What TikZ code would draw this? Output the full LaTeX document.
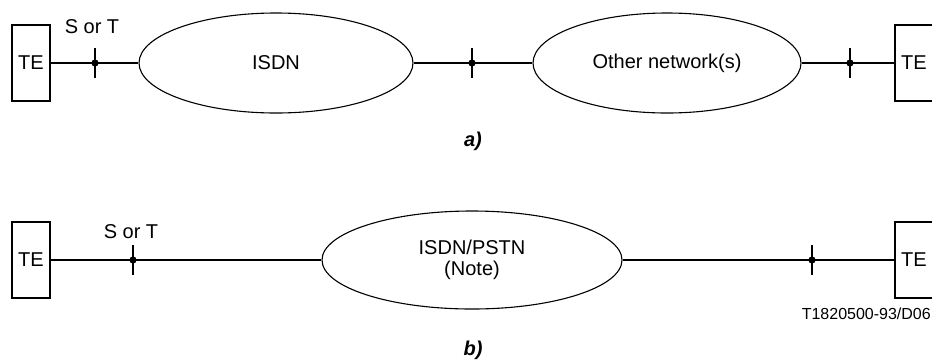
\documentclass[tikz,border=0pt]{standalone}
\usepackage{fontspec}
\setmainfont{Liberation Sans}
\usetikzlibrary{positioning,shapes}

\begin{document}
\begin{tikzpicture}[x=1pt,y=-1pt,font=\fontsize{20}{21}\selectfont]
\tikzstyle{every node}+=[inner sep=0pt]
\tikzstyle{term}=[draw,black,line width=1.1pt,minimum width=38pt,minimum height=76pt]
\tikzstyle{net}=[draw,black,ellipse,line width=1.1pt,align=center]
\tikzstyle{conn}=[black,line width=2.4pt]
\useasboundingbox (0,0) rectangle (932,360);
\node [term] (teA) at (31,63) {TE};
\node [net,minimum width=274pt,minimum height=100pt] (isdn) at (276,63) {ISDN};
\node [net,minimum width=268pt,minimum height=100pt] (other) at (667,63) {Other network(s)};
\node [term] (teB) at (914,63) {TE};
\coordinate (rpA) at (95,63);
\coordinate (rpB) at (472,63);
\coordinate (rpC) at (850,63);
\draw [conn] (teA) -- (isdn);
\draw [conn] (isdn) -- (other);
\draw [conn] (other) -- (teB);
\node [term] (teC) at (31,260) {TE};
\node [net,minimum width=300pt,minimum height=98pt] (pstn) at (472,260) {ISDN/PSTN\\(Note)};
\node [term] (teD) at (914,260) {TE};
\coordinate (rpD) at (133,260);
\coordinate (rpE) at (812,260);
\draw [conn] (teC) -- (pstn);
\draw [conn] (pstn) -- (teD);
\foreach \p in {rpA,rpB,rpC,rpD,rpE} {
  \draw [conn] (\p) ++(0,-15) -- ++(0,30);
  \fill [black] (\p) circle (3.6);
}
\node [anchor=base] (stA) at (92,33) {S or T};
\node [anchor=base] (stB) at (131,238) {S or T};
\node [anchor=base] (capA) at (473,146) {\bfseries\itshape a)};
\node [anchor=base] (capB) at (473,355) {\bfseries\itshape b)};
\node [anchor=base east,font=\fontsize{16}{18}\selectfont] (code) at (931,319) {T1820500-93/D06};
\end{tikzpicture}
\end{document}
